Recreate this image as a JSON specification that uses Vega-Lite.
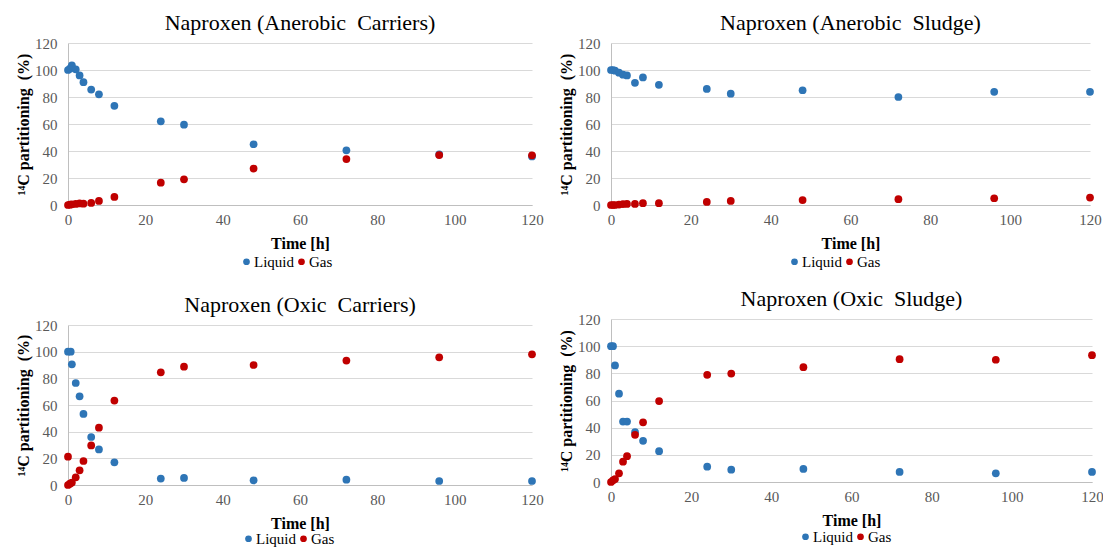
{
  "$schema": "https://vega.github.io/schema/vega-lite/v6.json",
  "background": "white",
  "padding": {"left": 15, "top": 12, "right": 0, "bottom": 0},
  "config": {
    "view": {"stroke": null},
    "font": "Liberation Serif",
    "title": {"font": "Liberation Serif", "fontSize": 22, "fontWeight": "normal", "color": "#000000", "offset": 1},
    "axis": {"labelFont": "Liberation Serif", "labelFontSize": 15, "labelColor": "#595959", "titleFont": "Liberation Serif", "titleFontSize": 16, "titleFontWeight": "bold", "titleColor": "#000000", "ticks": false, "domainColor": "#bfbfbf", "gridColor": "#d9d9d9"},
    "axisX": {"labelPadding": 7, "titlePadding": 8, "labelFlush": false, "grid": false},
    "axisY": {"labelPadding": 11, "titlePadding": 3},
    "legend": {"labelFont": "Liberation Serif", "labelFontSize": 15, "labelColor": "#000000", "orient": "none", "direction": "horizontal", "symbolType": "circle", "symbolSize": 45, "columnPadding": 0, "labelOffset": 0, "padding": 0}
  },
  "data": {"values": [
    {"p":"AC","s":"Liquid","t":0,"v":100},{"p":"AC","s":"Liquid","t":0.5,"v":101},{"p":"AC","s":"Liquid","t":1,"v":103.5},{"p":"AC","s":"Liquid","t":2,"v":100.5},{"p":"AC","s":"Liquid","t":3,"v":96},{"p":"AC","s":"Liquid","t":4,"v":91},{"p":"AC","s":"Liquid","t":6,"v":85.5},{"p":"AC","s":"Liquid","t":8,"v":82},{"p":"AC","s":"Liquid","t":12,"v":73.5},{"p":"AC","s":"Liquid","t":24,"v":62},{"p":"AC","s":"Liquid","t":30,"v":59.5},{"p":"AC","s":"Liquid","t":48,"v":45},{"p":"AC","s":"Liquid","t":72,"v":40.5},{"p":"AC","s":"Liquid","t":96,"v":37.5},{"p":"AC","s":"Liquid","t":120,"v":36},
    {"p":"AC","s":"Gas","t":0,"v":0},{"p":"AC","s":"Gas","t":0.5,"v":0.2},{"p":"AC","s":"Gas","t":1,"v":0.5},{"p":"AC","s":"Gas","t":2,"v":0.8},{"p":"AC","s":"Gas","t":3,"v":1.2},{"p":"AC","s":"Gas","t":4,"v":1.0},{"p":"AC","s":"Gas","t":6,"v":1.5},{"p":"AC","s":"Gas","t":8,"v":3},{"p":"AC","s":"Gas","t":12,"v":6},{"p":"AC","s":"Gas","t":24,"v":16.5},{"p":"AC","s":"Gas","t":30,"v":19},{"p":"AC","s":"Gas","t":48,"v":27},{"p":"AC","s":"Gas","t":72,"v":34},{"p":"AC","s":"Gas","t":96,"v":37},{"p":"AC","s":"Gas","t":120,"v":36.8},
    {"p":"AS","s":"Liquid","t":0,"v":100},{"p":"AS","s":"Liquid","t":0.5,"v":100},{"p":"AS","s":"Liquid","t":1,"v":99.5},{"p":"AS","s":"Liquid","t":2,"v":98},{"p":"AS","s":"Liquid","t":3,"v":96.5},{"p":"AS","s":"Liquid","t":4,"v":96},{"p":"AS","s":"Liquid","t":6,"v":90.5},{"p":"AS","s":"Liquid","t":8,"v":94.5},{"p":"AS","s":"Liquid","t":12,"v":89},{"p":"AS","s":"Liquid","t":24,"v":86},{"p":"AS","s":"Liquid","t":30,"v":82.5},{"p":"AS","s":"Liquid","t":48,"v":85},{"p":"AS","s":"Liquid","t":72,"v":80},{"p":"AS","s":"Liquid","t":96,"v":83.8},{"p":"AS","s":"Liquid","t":120,"v":83.8},
    {"p":"AS","s":"Gas","t":0,"v":0},{"p":"AS","s":"Gas","t":0.5,"v":0},{"p":"AS","s":"Gas","t":1,"v":0},{"p":"AS","s":"Gas","t":2,"v":0.3},{"p":"AS","s":"Gas","t":3,"v":0.7},{"p":"AS","s":"Gas","t":4,"v":0.8},{"p":"AS","s":"Gas","t":6,"v":0.8},{"p":"AS","s":"Gas","t":8,"v":1.3},{"p":"AS","s":"Gas","t":12,"v":1.3},{"p":"AS","s":"Gas","t":24,"v":2.3},{"p":"AS","s":"Gas","t":30,"v":3},{"p":"AS","s":"Gas","t":48,"v":3.7},{"p":"AS","s":"Gas","t":72,"v":4.3},{"p":"AS","s":"Gas","t":96,"v":5},{"p":"AS","s":"Gas","t":120,"v":5.5},
    {"p":"OC","s":"Liquid","t":0,"v":100},{"p":"OC","s":"Liquid","t":0.7,"v":100},{"p":"OC","s":"Liquid","t":1,"v":90.5},{"p":"OC","s":"Liquid","t":2,"v":76.5},{"p":"OC","s":"Liquid","t":3,"v":66.5},{"p":"OC","s":"Liquid","t":4,"v":53.3},{"p":"OC","s":"Liquid","t":6,"v":36},{"p":"OC","s":"Liquid","t":8,"v":26.7},{"p":"OC","s":"Liquid","t":12,"v":17},{"p":"OC","s":"Liquid","t":24,"v":4.8},{"p":"OC","s":"Liquid","t":30,"v":5.3},{"p":"OC","s":"Liquid","t":48,"v":3.5},{"p":"OC","s":"Liquid","t":72,"v":4},{"p":"OC","s":"Liquid","t":96,"v":3},{"p":"OC","s":"Liquid","t":120,"v":3},
    {"p":"OC","s":"Gas","t":0,"v":0},{"p":"OC","s":"Gas","t":0,"v":21.2},{"p":"OC","s":"Gas","t":0.5,"v":1},{"p":"OC","s":"Gas","t":1,"v":1.8},{"p":"OC","s":"Gas","t":2,"v":5.8},{"p":"OC","s":"Gas","t":3,"v":11},{"p":"OC","s":"Gas","t":4,"v":18},{"p":"OC","s":"Gas","t":6,"v":29.7},{"p":"OC","s":"Gas","t":8,"v":43},{"p":"OC","s":"Gas","t":12,"v":63.3},{"p":"OC","s":"Gas","t":24,"v":84.5},{"p":"OC","s":"Gas","t":30,"v":88.7},{"p":"OC","s":"Gas","t":48,"v":90},{"p":"OC","s":"Gas","t":72,"v":93.3},{"p":"OC","s":"Gas","t":96,"v":95.8},{"p":"OC","s":"Gas","t":120,"v":98},
    {"p":"OS","s":"Liquid","t":0,"v":100},{"p":"OS","s":"Liquid","t":0.5,"v":100},{"p":"OS","s":"Liquid","t":1,"v":85.8},{"p":"OS","s":"Liquid","t":2,"v":65},{"p":"OS","s":"Liquid","t":3,"v":44.5},{"p":"OS","s":"Liquid","t":4,"v":44.5},{"p":"OS","s":"Liquid","t":6,"v":36.7},{"p":"OS","s":"Liquid","t":8,"v":30.3},{"p":"OS","s":"Liquid","t":12,"v":22.7},{"p":"OS","s":"Liquid","t":24,"v":11.3},{"p":"OS","s":"Liquid","t":30,"v":9.1},{"p":"OS","s":"Liquid","t":48,"v":9.6},{"p":"OS","s":"Liquid","t":72,"v":7.4},{"p":"OS","s":"Liquid","t":96,"v":6.4},{"p":"OS","s":"Liquid","t":120,"v":7.4},
    {"p":"OS","s":"Gas","t":0,"v":0},{"p":"OS","s":"Gas","t":0.5,"v":1.2},{"p":"OS","s":"Gas","t":1,"v":2.2},{"p":"OS","s":"Gas","t":2,"v":6.4},{"p":"OS","s":"Gas","t":3,"v":15},{"p":"OS","s":"Gas","t":4,"v":19},{"p":"OS","s":"Gas","t":6,"v":34.7},{"p":"OS","s":"Gas","t":8,"v":43.9},{"p":"OS","s":"Gas","t":12,"v":59.6},{"p":"OS","s":"Gas","t":24,"v":78.9},{"p":"OS","s":"Gas","t":30,"v":79.8},{"p":"OS","s":"Gas","t":48,"v":84.5},{"p":"OS","s":"Gas","t":72,"v":90.4},{"p":"OS","s":"Gas","t":96,"v":90},{"p":"OS","s":"Gas","t":120,"v":93.4}
  ]},
  "resolve": {"scale": {"color": "independent", "x": "independent", "y": "independent"}, "legend": {"color": "independent"}},
  "spacing": 14,
  "hconcat": [
    {
      "spacing": 24,
      "resolve": {"scale": {"color": "independent", "x": "independent", "y": "independent"}, "legend": {"color": "independent"}},
      "vconcat": [
        {
          "title": "Naproxen (Anerobic\u00a0\u00a0Carriers)",
          "width": 464, "height": 162,
          "transform": [{"filter": "datum.p === 'AC'"}],
          "mark": {"type": "point", "filled": true, "size": 60, "opacity": 1},
          "encoding": {
            "x": {"field": "t", "type": "quantitative", "scale": {"domain": [0, 120], "nice": false}, "axis": {"title": "Time [h]", "values": [0,20,40,60,80,100,120]}},
            "y": {"field": "v", "type": "quantitative", "scale": {"domain": [0, 120], "nice": false}, "axis": {"title": "¹⁴C partitioning\u00a0\u00a0(%)", "values": [0,20,40,60,80,100,120]}},
            "color": {"field": "s", "type": "nominal", "scale": {"domain": ["Liquid", "Gas"], "range": ["#2E75B6", "#C00000"]}, "legend": {"title": null, "legendX": 171, "legendY": 211}},
            "order": {"field": "s", "sort": "descending"}
          }
        },
        {
          "title": "Naproxen (Oxic\u00a0\u00a0Carriers)",
          "width": 464, "height": 160,
          "transform": [{"filter": "datum.p === 'OC'"}],
          "mark": {"type": "point", "filled": true, "size": 60, "opacity": 1},
          "encoding": {
            "x": {"field": "t", "type": "quantitative", "scale": {"domain": [0, 120], "nice": false}, "axis": {"title": "Time [h]", "values": [0,20,40,60,80,100,120]}},
            "y": {"field": "v", "type": "quantitative", "scale": {"domain": [0, 120], "nice": false}, "axis": {"title": "¹⁴C partitioning\u00a0\u00a0(%)", "values": [0,20,40,60,80,100,120]}},
            "color": {"field": "s", "type": "nominal", "scale": {"domain": ["Liquid", "Gas"], "range": ["#2E75B6", "#C00000"]}, "legend": {"title": null, "legendX": 173, "legendY": 206}},
            "order": {"field": "s", "sort": "descending"}
          }
        }
      ]
    },
    {
      "spacing": 18,
      "resolve": {"scale": {"color": "independent", "x": "independent", "y": "independent"}, "legend": {"color": "independent"}},
      "vconcat": [
        {
          "title": "Naproxen (Anerobic\u00a0\u00a0Sludge)",
          "width": 479, "height": 162,
          "transform": [{"filter": "datum.p === 'AS'"}],
          "mark": {"type": "point", "filled": true, "size": 60, "opacity": 1},
          "encoding": {
            "x": {"field": "t", "type": "quantitative", "scale": {"domain": [0, 120], "nice": false}, "axis": {"title": "Time [h]", "values": [0,20,40,60,80,100,120]}},
            "y": {"field": "v", "type": "quantitative", "scale": {"domain": [0, 120], "nice": false}, "axis": {"title": "¹⁴C partitioning\u00a0\u00a0(%)", "values": [0,20,40,60,80,100,120]}},
            "color": {"field": "s", "type": "nominal", "scale": {"domain": ["Liquid", "Gas"], "range": ["#2E75B6", "#C00000"]}, "legend": {"title": null, "legendX": 176, "legendY": 211}},
            "order": {"field": "s", "sort": "descending"}
          }
        },
        {
          "title": "Naproxen (Oxic\u00a0\u00a0Sludge)",
          "width": 481, "height": 163,
          "transform": [{"filter": "datum.p === 'OS'"}],
          "mark": {"type": "point", "filled": true, "size": 60, "opacity": 1},
          "encoding": {
            "x": {"field": "t", "type": "quantitative", "scale": {"domain": [0, 120], "nice": false}, "axis": {"title": "Time [h]", "values": [0,20,40,60,80,100,120]}},
            "y": {"field": "v", "type": "quantitative", "scale": {"domain": [0, 120], "nice": false}, "axis": {"title": "¹⁴C partitioning\u00a0\u00a0(%)", "values": [0,20,40,60,80,100,120]}},
            "color": {"field": "s", "type": "nominal", "scale": {"domain": ["Liquid", "Gas"], "range": ["#2E75B6", "#C00000"]}, "legend": {"title": null, "legendX": 187, "legendY": 210}},
            "order": {"field": "s", "sort": "descending"}
          }
        }
      ]
    }
  ]
}
